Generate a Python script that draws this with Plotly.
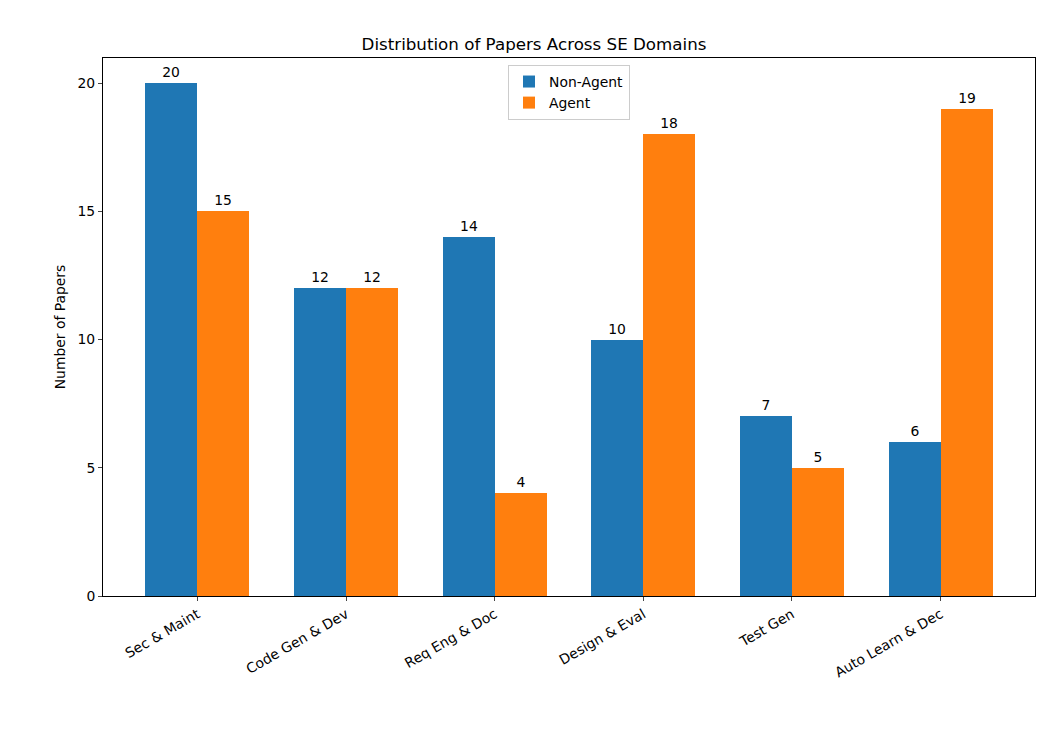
import plotly.graph_objects as go

categories = ["Sec & Maint", "Code Gen & Dev", "Req Eng & Doc", "Design & Eval", "Test Gen", "Auto Learn & Dec"]
non_agent = [20, 12, 14, 10, 7, 6]
agent = [15, 12, 4, 18, 5, 19]

x = list(range(len(categories)))
w = 0.35
font = "DejaVu Sans"
fs = 13.9

fig = go.Figure()
fig.add_trace(go.Bar(
    x=[i - w / 2 for i in x], y=non_agent, width=w, name="Non-Agent",
    marker=dict(color="#1f77b4", line=dict(width=0)),
    text=[str(v) for v in non_agent], textposition="outside",
    textfont=dict(family=font, size=fs, color="black"), cliponaxis=False,
))
fig.add_trace(go.Bar(
    x=[i + w / 2 for i in x], y=agent, width=w, name="Agent",
    marker=dict(color="#ff7f0e", line=dict(width=0)),
    text=[str(v) for v in agent], textposition="outside",
    textfont=dict(family=font, size=fs, color="black"), cliponaxis=False,
))

fig.update_layout(
    width=1052, height=740,
    margin=dict(l=95, r=25, t=50, b=152),
    paper_bgcolor="white", plot_bgcolor="white",
    font=dict(family=font, size=fs, color="black"),
    title=dict(text="Distribution of Papers Across SE Domains", x=0.5, xanchor="center",
               y=1 - 36 / 740, yanchor="middle", font=dict(size=16.7, family=font)),
    barmode="overlay", bargap=0,
    showlegend=True,
    legend=dict(x=0.5, xanchor="center", y=0.987, yanchor="top",
                bordercolor="#cccccc", borderwidth=1, bgcolor="rgba(255,255,255,0.8)",
                font=dict(size=fs, family=font), tracegroupgap=0),
    uniformtext=dict(mode=False),
)
fig.update_xaxes(
    range=[-0.635, 5.635], tickmode="array", tickvals=x, ticktext=categories,
    tickangle=-30, ticks="outside", ticklen=4, showline=True, linecolor="black",
    linewidth=1, mirror=True, showgrid=False, zeroline=False,
    tickfont=dict(size=fs, family=font),
)
fig.update_yaxes(
    range=[0, 20.975], tickvals=[0, 5, 10, 15, 20], ticks="outside", ticklen=4,
    showline=True, linecolor="black", linewidth=1, mirror=True, showgrid=False,
    zeroline=False, title=dict(text="Number of Papers", font=dict(size=fs, family=font), standoff=8),
    tickfont=dict(size=fs, family=font),
)

fig.write_html("out.html")
